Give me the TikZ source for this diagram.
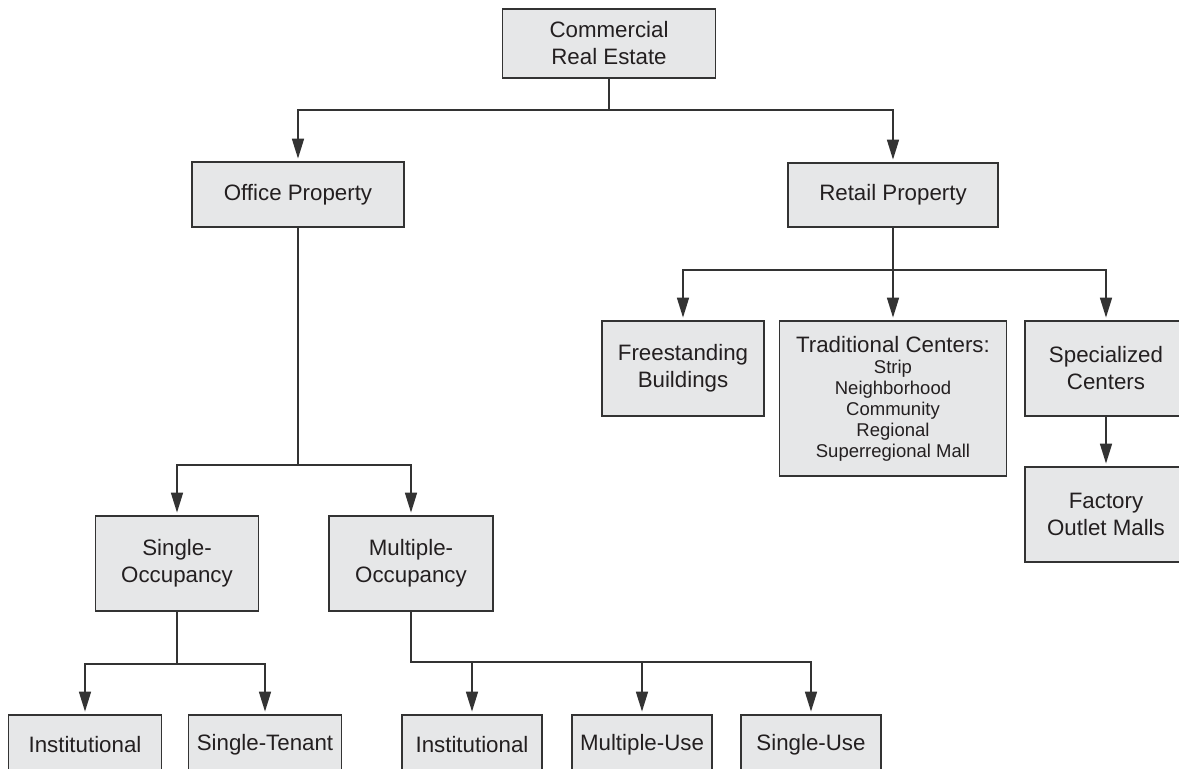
\documentclass[tikz,border=0pt]{standalone}
\usepackage{fontspec}
\setmainfont{Liberation Sans}
\usetikzlibrary{arrows.meta}
\definecolor{boxfill}{HTML}{E6E7E8}
\definecolor{boxline}{HTML}{333333}
\definecolor{txt}{HTML}{231F20}
\tikzset{
  box/.style={draw=boxline, line width=1.8pt, fill=boxfill, text=txt, align=center,
    inner sep=0pt, font=\fontsize{22.3}{27}\selectfont},
  conn/.style={draw=boxline, line width=1.6pt},
  arr/.style={conn, -{Triangle[length=20pt,width=12pt]}, shorten >=2.5pt},
}
\newcommand{\smalltxt}{\fontsize{18.5}{21.5}\selectfont}
\begin{document}
\begin{tikzpicture}[x=1pt,y=-1pt]
\useasboundingbox (0,0) rectangle (1179,769);
\clip (0,0) rectangle (1179,769);
\node[box, minimum width=213pt, minimum height=69pt] (cre) at (609,43.5) {Commercial\\Real Estate};
\node[box, minimum width=212pt, minimum height=65pt] (office) at (298,194.5) {Office Property};
\node[box, minimum width=210pt, minimum height=64pt] (retail) at (893,195) {Retail Property};
\node[box, minimum width=162pt, minimum height=95pt] (free) at (683,368.5) {Freestanding\\Buildings};
\node[box, minimum width=227pt, minimum height=155pt] (trad) at (893,398.5) {Traditional Centers:\\[-6pt]{\smalltxt Strip}\\[-6pt]{\smalltxt Neighborhood}\\[-6pt]{\smalltxt Community}\\[-6pt]{\smalltxt Regional}\\[-6pt]{\smalltxt Superregional Mall}};
\node[box, minimum width=162pt, minimum height=95pt] (spec) at (1106,368.5) {Specialized\\Centers};
\node[box, minimum width=162pt, minimum height=95pt] (fact) at (1106,514.5) {Factory\\Outlet Malls};
\node[box, minimum width=163pt, minimum height=95pt] (single) at (177,563.5) {Single-\\Occupancy};
\node[box, minimum width=164pt, minimum height=95pt] (multi) at (411,563.5) {Multiple-\\Occupancy};
\node[box, minimum width=153pt, minimum height=60pt] (inst1) at (85,745) {Institutional};
\node[box, minimum width=153pt, minimum height=60pt] (tenant) at (265,745) {Single-Tenant};
\node[box, minimum width=140pt, minimum height=60pt] (inst2) at (472,745) {Institutional};
\node[box, minimum width=140pt, minimum height=60pt] (muse) at (642,745) {Multiple-Use};
\node[box, minimum width=140pt, minimum height=60pt] (suse) at (811,745) {Single-Use};
% level 1
\draw[arr] (cre.south) -- ++(0,31) -| (office.north);
\draw[arr] (cre.south) -- ++(0,31) -| (retail.north);
% retail
\draw[arr] (retail.south) -- ++(0,42) -| (free.north);
\draw[arr] (retail.south) -- ++(0,42) -| (trad.north);
\draw[arr] (retail.south) -- ++(0,42) -| (spec.north);
\draw[arr] (spec.south) -- (fact.north);
% office
\draw[arr] (office.south) -- ++(0,237) -| (single.north);
\draw[arr] (office.south) -- ++(0,237) -| (multi.north);
% single
\draw[arr] (single.south) -- ++(0,52) -| (inst1.north);
\draw[arr] (single.south) -- ++(0,52) -| (tenant.north);
% multi
\draw[arr] (multi.south) -- ++(0,50) -| (inst2.north);
\draw[arr] (multi.south) -- ++(0,50) -| (muse.north);
\draw[arr] (multi.south) -- ++(0,50) -| (suse.north);
\end{tikzpicture}
\end{document}
